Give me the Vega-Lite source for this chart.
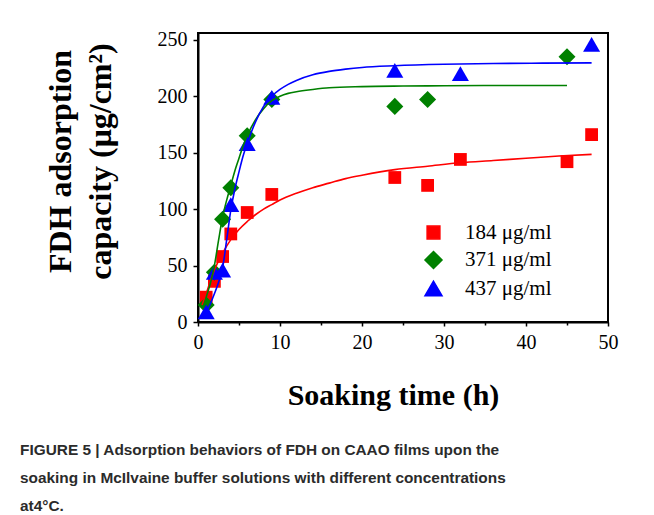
{
  "$schema": "https://vega.github.io/schema/vega-lite/v6.json",
  "width": 410,
  "height": 289,
  "autosize": "none",
  "padding": {"left": 198, "top": 33, "right": 46, "bottom": 193},
  "background": "white",
  "config": {
    "view": {"stroke": "black", "strokeWidth": 2},
    "axis": {"grid": false, "domainColor": "black", "domainWidth": 2, "tickColor": "black", "tickWidth": 1.5, "labelFont": "Liberation Serif", "labelFontSize": 20, "labelColor": "black", "titleFont": "Liberation Serif", "titleFontWeight": "bold", "titleColor": "black"},
    "legend": {"labelFont": "Liberation Serif", "labelFontSize": 21, "labelColor": "black"}
  },
  "title": {
    "text": ["FIGURE 5 | Adsorption behaviors of FDH on CAAO films upon the", "soaking in McIlvaine buffer solutions with different concentrations", "at4°C."],
    "orient": "bottom",
    "anchor": "start",
    "frame": "group",
    "dx": -178,
    "offset": 33,
    "baseline": "top",
    "font": "Liberation Sans",
    "fontWeight": "bold",
    "fontSize": 15.4,
    "lineHeight": 28,
    "color": "#2b2b2b"
  },
  "datasets": {
    "points": [
      {"series": "184 μg/ml", "t": 1, "q": 22},
      {"series": "184 μg/ml", "t": 2, "q": 36},
      {"series": "184 μg/ml", "t": 3, "q": 58},
      {"series": "184 μg/ml", "t": 4, "q": 78},
      {"series": "184 μg/ml", "t": 6, "q": 97},
      {"series": "184 μg/ml", "t": 9, "q": 113},
      {"series": "184 μg/ml", "t": 24, "q": 128},
      {"series": "184 μg/ml", "t": 28, "q": 121},
      {"series": "184 μg/ml", "t": 32, "q": 144},
      {"series": "184 μg/ml", "t": 45, "q": 142},
      {"series": "184 μg/ml", "t": 48, "q": 166},
      {"series": "371 μg/ml", "t": 1, "q": 15},
      {"series": "371 μg/ml", "t": 2, "q": 44},
      {"series": "371 μg/ml", "t": 3, "q": 91},
      {"series": "371 μg/ml", "t": 4, "q": 119},
      {"series": "371 μg/ml", "t": 6, "q": 165},
      {"series": "371 μg/ml", "t": 9, "q": 197},
      {"series": "371 μg/ml", "t": 24, "q": 191},
      {"series": "371 μg/ml", "t": 28, "q": 197},
      {"series": "371 μg/ml", "t": 45, "q": 235},
      {"series": "437 μg/ml", "t": 1, "q": 9},
      {"series": "437 μg/ml", "t": 2, "q": 44},
      {"series": "437 μg/ml", "t": 3, "q": 46},
      {"series": "437 μg/ml", "t": 4, "q": 104},
      {"series": "437 μg/ml", "t": 6, "q": 158},
      {"series": "437 μg/ml", "t": 9, "q": 199},
      {"series": "437 μg/ml", "t": 24, "q": 223},
      {"series": "437 μg/ml", "t": 32, "q": 220},
      {"series": "437 μg/ml", "t": 48, "q": 246}
    ],
    "fits": [
      {"series": "184 μg/ml", "t": 0.5, "fit": 15},
      {"series": "184 μg/ml", "t": 1, "fit": 25},
      {"series": "184 μg/ml", "t": 1.5, "fit": 36},
      {"series": "184 μg/ml", "t": 2, "fit": 46},
      {"series": "184 μg/ml", "t": 3, "fit": 61},
      {"series": "184 μg/ml", "t": 4, "fit": 73},
      {"series": "184 μg/ml", "t": 5, "fit": 82},
      {"series": "184 μg/ml", "t": 6, "fit": 89},
      {"series": "184 μg/ml", "t": 7, "fit": 95},
      {"series": "184 μg/ml", "t": 8, "fit": 100},
      {"series": "184 μg/ml", "t": 9, "fit": 104},
      {"series": "184 μg/ml", "t": 10, "fit": 108},
      {"series": "184 μg/ml", "t": 12, "fit": 114},
      {"series": "184 μg/ml", "t": 14, "fit": 119},
      {"series": "184 μg/ml", "t": 16, "fit": 123},
      {"series": "184 μg/ml", "t": 18, "fit": 127},
      {"series": "184 μg/ml", "t": 20, "fit": 130},
      {"series": "184 μg/ml", "t": 24, "fit": 135},
      {"series": "184 μg/ml", "t": 28, "fit": 138},
      {"series": "184 μg/ml", "t": 32, "fit": 141},
      {"series": "184 μg/ml", "t": 36, "fit": 143},
      {"series": "184 μg/ml", "t": 40, "fit": 145},
      {"series": "184 μg/ml", "t": 44, "fit": 147},
      {"series": "184 μg/ml", "t": 48, "fit": 148.5},
      {"series": "371 μg/ml", "t": 0.6, "fit": 12},
      {"series": "371 μg/ml", "t": 1, "fit": 22},
      {"series": "371 μg/ml", "t": 1.5, "fit": 34},
      {"series": "371 μg/ml", "t": 2, "fit": 50},
      {"series": "371 μg/ml", "t": 2.5, "fit": 72},
      {"series": "371 μg/ml", "t": 3, "fit": 93},
      {"series": "371 μg/ml", "t": 3.5, "fit": 108},
      {"series": "371 μg/ml", "t": 4, "fit": 121},
      {"series": "371 μg/ml", "t": 4.5, "fit": 134},
      {"series": "371 μg/ml", "t": 5, "fit": 145},
      {"series": "371 μg/ml", "t": 5.5, "fit": 156},
      {"series": "371 μg/ml", "t": 6, "fit": 165},
      {"series": "371 μg/ml", "t": 7, "fit": 179},
      {"series": "371 μg/ml", "t": 8, "fit": 189},
      {"series": "371 μg/ml", "t": 9, "fit": 196},
      {"series": "371 μg/ml", "t": 10, "fit": 200},
      {"series": "371 μg/ml", "t": 11, "fit": 202.5},
      {"series": "371 μg/ml", "t": 12, "fit": 204},
      {"series": "371 μg/ml", "t": 14, "fit": 206},
      {"series": "371 μg/ml", "t": 16, "fit": 207.5},
      {"series": "371 μg/ml", "t": 20, "fit": 208.5},
      {"series": "371 μg/ml", "t": 25, "fit": 209},
      {"series": "371 μg/ml", "t": 30, "fit": 209.3},
      {"series": "371 μg/ml", "t": 38, "fit": 209.5},
      {"series": "371 μg/ml", "t": 45, "fit": 209.5},
      {"series": "437 μg/ml", "t": 0.5, "fit": 4},
      {"series": "437 μg/ml", "t": 1, "fit": 9},
      {"series": "437 μg/ml", "t": 1.5, "fit": 16},
      {"series": "437 μg/ml", "t": 2, "fit": 25},
      {"series": "437 μg/ml", "t": 2.5, "fit": 35},
      {"series": "437 μg/ml", "t": 3, "fit": 48},
      {"series": "437 μg/ml", "t": 3.5, "fit": 73},
      {"series": "437 μg/ml", "t": 4, "fit": 99},
      {"series": "437 μg/ml", "t": 4.5, "fit": 118},
      {"series": "437 μg/ml", "t": 5, "fit": 133},
      {"series": "437 μg/ml", "t": 5.5, "fit": 147},
      {"series": "437 μg/ml", "t": 6, "fit": 158},
      {"series": "437 μg/ml", "t": 7, "fit": 177},
      {"series": "437 μg/ml", "t": 8, "fit": 191},
      {"series": "437 μg/ml", "t": 9, "fit": 200},
      {"series": "437 μg/ml", "t": 10, "fit": 206},
      {"series": "437 μg/ml", "t": 11, "fit": 210.5},
      {"series": "437 μg/ml", "t": 12, "fit": 214},
      {"series": "437 μg/ml", "t": 14, "fit": 219},
      {"series": "437 μg/ml", "t": 16, "fit": 222},
      {"series": "437 μg/ml", "t": 18, "fit": 224},
      {"series": "437 μg/ml", "t": 20, "fit": 225.5},
      {"series": "437 μg/ml", "t": 24, "fit": 227},
      {"series": "437 μg/ml", "t": 30, "fit": 228.3},
      {"series": "437 μg/ml", "t": 36, "fit": 229},
      {"series": "437 μg/ml", "t": 42, "fit": 229.3},
      {"series": "437 μg/ml", "t": 48, "fit": 229.5}
    ]
  },
  "encoding": {
    "x": {
      "field": "t", "type": "quantitative",
      "scale": {"domain": [0, 50], "nice": false},
      "axis": {
        "title": "Soaking time (h)",
        "titleFontSize": 30,
        "titleX": 195,
        "titleY": 82,
        "titleBaseline": "alphabetic",
        "values": [0, 5, 10, 15, 20, 25, 30, 35, 40, 45, 50],
        "labelExpr": "datum.value % 10 === 0 ? datum.label : ''",
        "tickSize": {"condition": {"test": "datum.value % 10 === 0", "value": 4}, "value": 3},
        "labelPadding": 6,
        "labelFlush": false,
        "labelOverlap": false
      }
    }
  },
  "layer": [
    {
      "data": {"name": "points"},
      "mark": {"type": "point", "filled": true, "opacity": 1, "size": 290},
      "encoding": {
        "y": {
          "field": "q", "type": "quantitative",
          "scale": {"domain": [0, 256], "nice": false},
          "axis": {
            "title": ["FDH adsorption", "capacity (μg/cm²)"],
            "titleFontSize": 32,
            "titleLineHeight": 40,
            "titleX": -128,
            "titleY": 128,
            "titleAngle": -90,
            "titleAlign": "center",
            "titleBaseline": "alphabetic",
            "values": [0, 25, 50, 75, 100, 125, 150, 175, 200, 225, 250],
            "labelExpr": "datum.value % 50 === 0 ? datum.label : ''",
            "tickSize": {"condition": {"test": "datum.value % 50 === 0", "value": 5}, "value": 3},
            "labelPadding": 6,
            "labelFlush": false,
            "labelOverlap": false
          }
        },
        "color": {
          "field": "series", "type": "nominal",
          "scale": {"domain": ["184 μg/ml", "371 μg/ml", "437 μg/ml"], "range": ["#ff0000", "#008000", "#0000ff"]},
          "legend": {
            "title": " ",
            "titleOrient": "left",
            "titleFontSize": 10,
            "titlePadding": 36,
            "orient": "top-left",
            "offset": 189,
            "labelOffset": 21,
            "rowPadding": 4.5,
            "symbolSize": 290
          }
        },
        "shape": {
          "field": "series", "type": "nominal",
          "scale": {"domain": ["184 μg/ml", "371 μg/ml", "437 μg/ml"], "range": ["M-0.75,-0.75L0.75,-0.75L0.75,0.75L-0.75,0.75Z", "diamond", "triangle-up"]}
        }
      }
    },
    {
      "data": {"name": "fits"},
      "mark": {"type": "line", "interpolate": "monotone", "strokeWidth": 1.6},
      "encoding": {
        "y": {"field": "fit", "type": "quantitative"},
        "stroke": {
          "field": "series", "type": "nominal",
          "scale": {"domain": ["184 μg/ml", "371 μg/ml", "437 μg/ml"], "range": ["#ff0000", "#008000", "#0000ff"]},
          "legend": null
        },
        "detail": {"field": "series"}
      }
    }
  ],
  "resolve": {"scale": {"y": "shared"}}
}
